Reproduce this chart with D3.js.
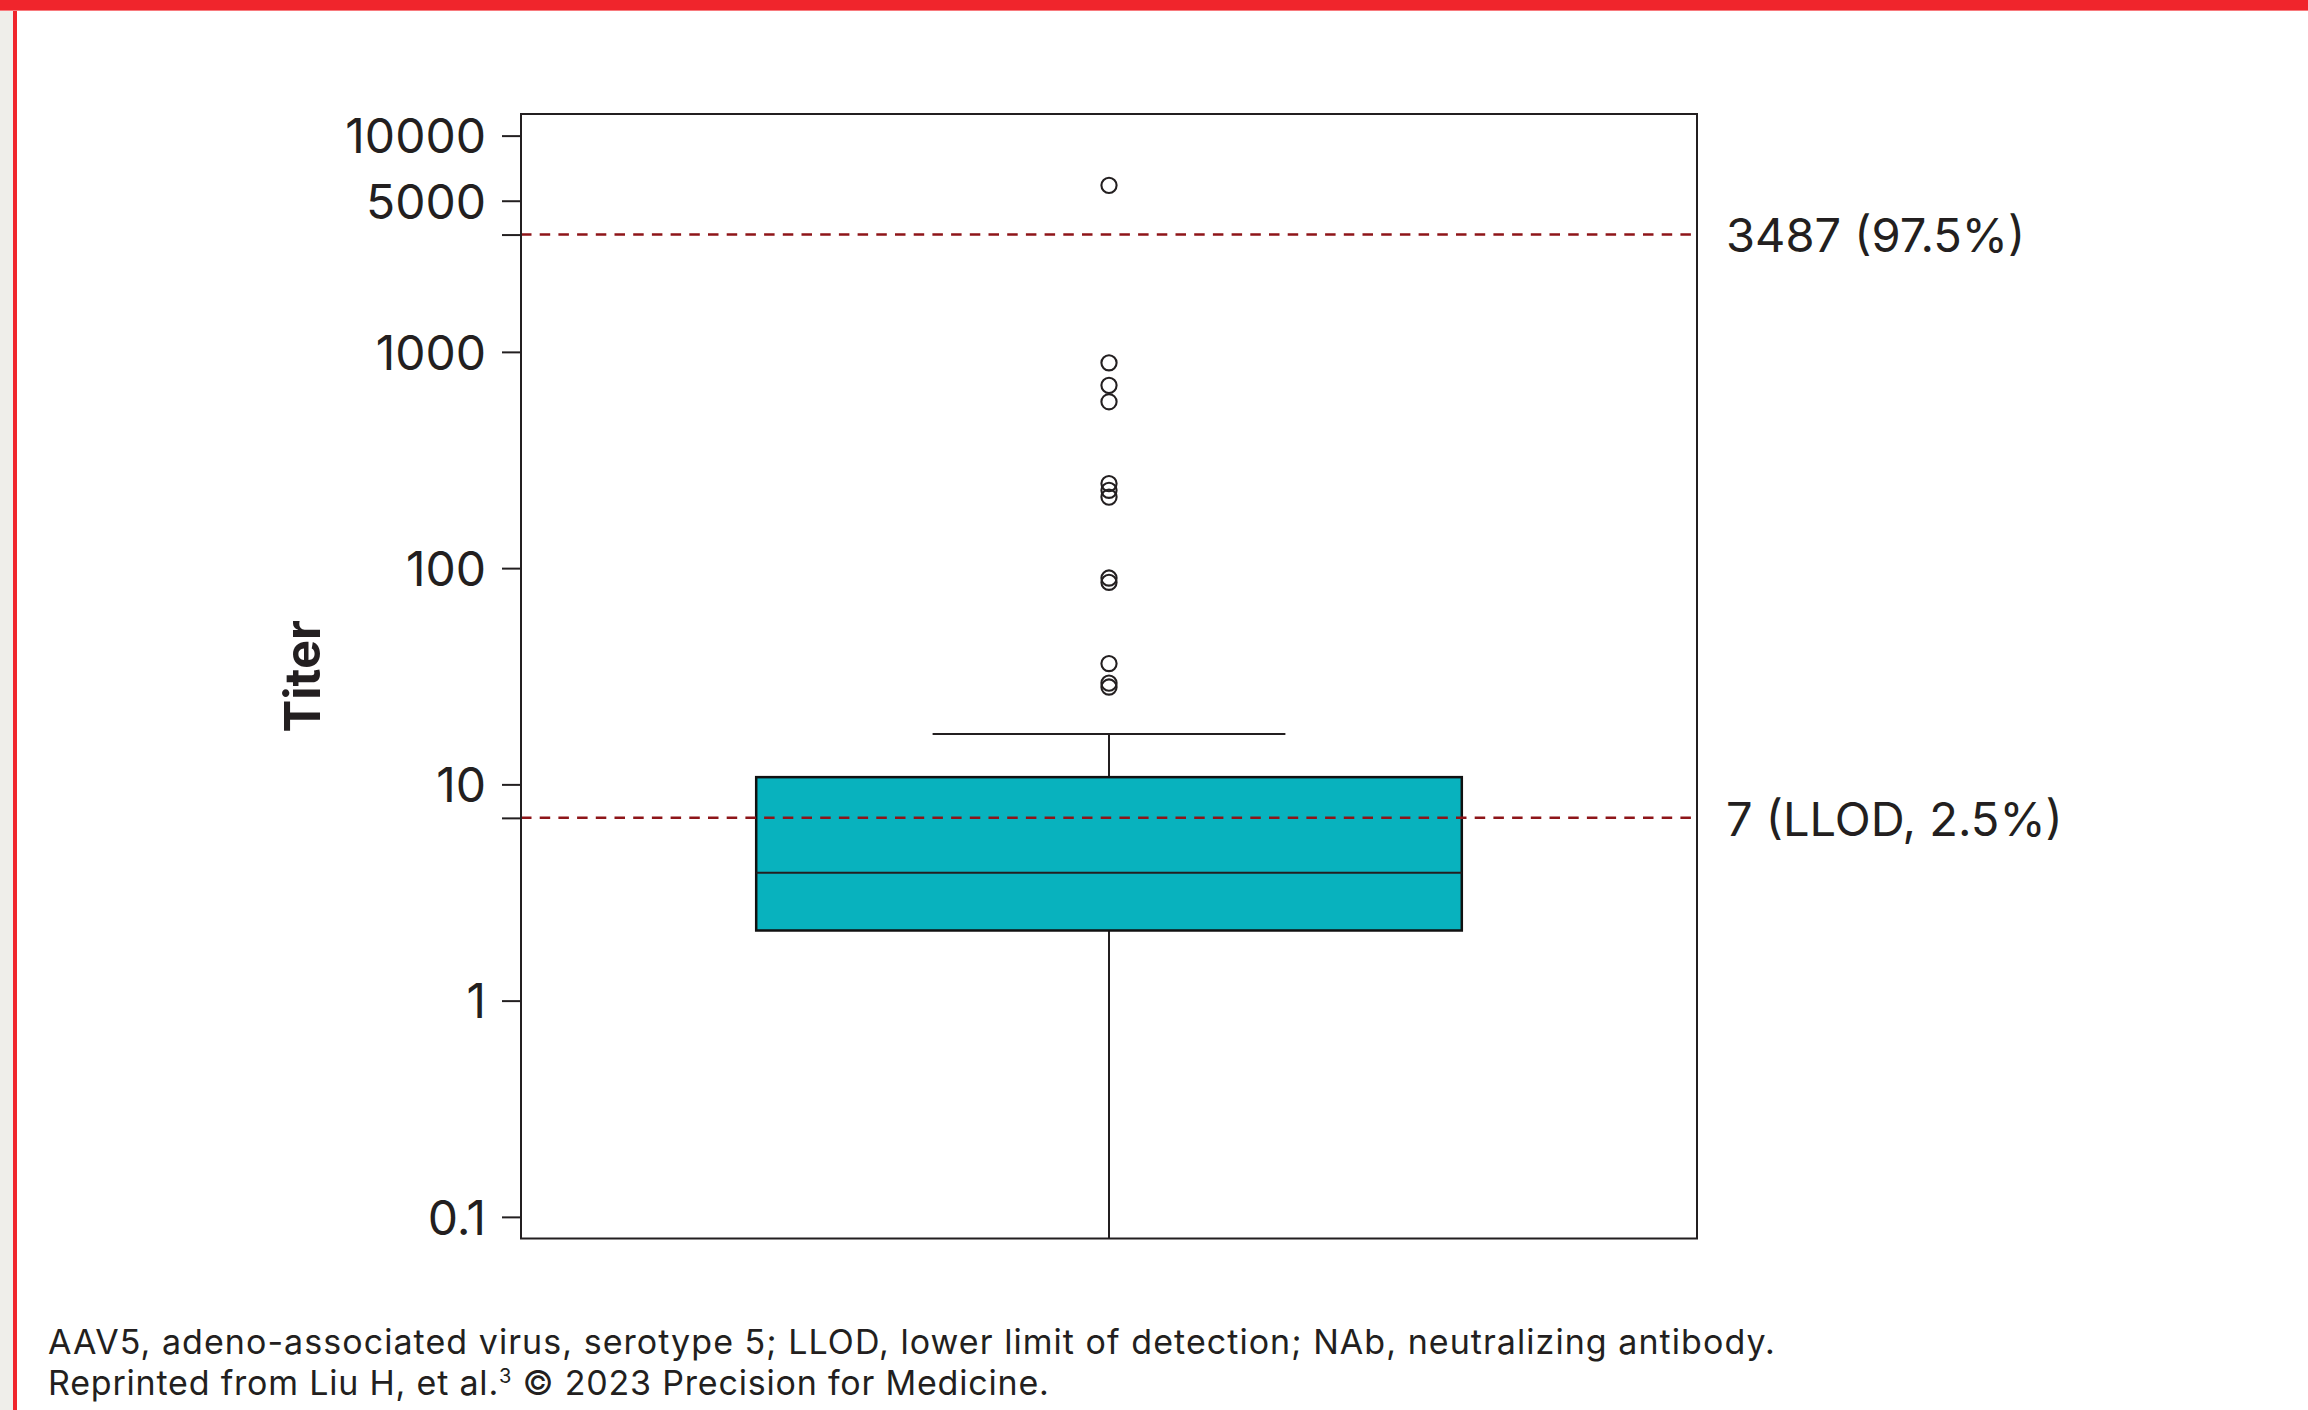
<!DOCTYPE html>
<html>
<head>
<meta charset="utf-8">
<script src="https://cdn.jsdelivr.net/npm/d3@7"></script>
<style>
  html, body { margin: 0; padding: 0; background: #fff; }
  svg { display: block; }
</style>
</head>
<body>
<div id="chart"></div>
<script>
// values (titer, log scale)
var group = ["AAV5"];
var boxStats = { q1: 2.11, median: 3.9, q3: 10.8, whiskerLow: 0.05, whiskerHigh: 17.1 };
var outliers = [5890, 890, 700, 588, 246, 229, 213, 90, 86, 36.2, 29.4, 28.2];
var tickValues = [0.1, 1, 10, 100, 1000, 5000, 10000];
var cutoffs = [3487, 7];
var cutoffLabels = ["3487 (97.5%)", "7 (LLOD, 2.5%)"];
var footnotes = [
  "AAV5, adeno-associated virus, serotype 5; LLOD, lower limit of detection; NAb, neutralizing antibody.",
  "Reprinted from Liu H, et al."
];

var W = 2308, H = 1410;
var ink = "#231f20";
var font = "Inter, 'Noto Sans', sans-serif";

var svg = d3.select("#chart").append("svg")
    .attr("width", W)
    .attr("height", H);

// page decoration: grey strip, red rules
svg.append("rect").attr("x", 0).attr("y", 0).attr("width", 13).attr("height", H).attr("fill", "#efeeea");
svg.append("rect").attr("x", 13).attr("y", 0).attr("width", 4).attr("height", H).attr("fill", "#f0252c");
svg.append("rect").attr("x", 0).attr("y", 0).attr("width", W).attr("height", 10).attr("fill", "#f0252c");
svg.append("rect").attr("x", 0).attr("y", 10).attr("width", W).attr("height", 1).attr("fill", "#f87a7d");

var plotLeft = 521, plotRight = 1697;
var pad = Math.pow(10, 0.1);

var y = d3.scaleLog()
    .domain([0.1 / pad, 10000 * pad])
    .range([1238.5, 114])
    .clamp(true);

var x = d3.scaleBand()
    .domain(group)
    .range([plotLeft, plotRight])
    .paddingInner(0.4)
    .paddingOuter(0.2);

var plotTop = y.range()[1], plotBottom = y.range()[0];
var cx = x("AAV5") + x.bandwidth() / 2;
var bw = x.bandwidth();

// y axis
var axis = d3.axisLeft(y)
    .tickValues(tickValues.concat(cutoffs))
    .tickSize(19)
    .tickPadding(16)
    .tickFormat(d => tickValues.indexOf(d) >= 0 ? String(d) : "");

var gAxis = svg.append("g")
    .attr("transform", "translate(" + plotLeft + ",0)")
    .call(axis);
gAxis.select(".domain").remove();
gAxis.selectAll(".tick line").attr("stroke", ink).attr("stroke-width", 2);
gAxis.selectAll(".tick text")
    .attr("fill", ink)
    .attr("dy", "0.36em")
    .style("font-family", font)
    .style("font-size", "48px")
    .style("font-weight", 400);

// y title
svg.append("text")
    .attr("transform", "translate(320," + ((plotTop + plotBottom) / 2) + ") rotate(-90)")
    .attr("text-anchor", "middle")
    .attr("fill", ink)
    .style("font-family", font)
    .style("font-size", "49px")
    .style("font-weight", 700)
    .text("Titer");

// whiskers
var g = svg.append("g");
g.append("line")
    .attr("x1", cx).attr("x2", cx)
    .attr("y1", y(boxStats.q3)).attr("y2", y(boxStats.whiskerHigh))
    .attr("stroke", ink).attr("stroke-width", 2);
g.append("line")
    .attr("x1", cx - bw / 4).attr("x2", cx + bw / 4)
    .attr("y1", y(boxStats.whiskerHigh)).attr("y2", y(boxStats.whiskerHigh))
    .attr("stroke", ink).attr("stroke-width", 2);
g.append("line")
    .attr("x1", cx).attr("x2", cx)
    .attr("y1", y(boxStats.q1)).attr("y2", y(boxStats.whiskerLow))
    .attr("stroke", ink).attr("stroke-width", 2);

// box
g.append("rect")
    .attr("x", x("AAV5"))
    .attr("y", y(boxStats.q3))
    .attr("width", bw)
    .attr("height", y(boxStats.q1) - y(boxStats.q3))
    .attr("fill", "#08b2be")
    .attr("stroke", "#111")
    .attr("stroke-width", 2.5);
g.append("line")
    .attr("x1", x("AAV5")).attr("x2", x("AAV5") + bw)
    .attr("y1", y(boxStats.median)).attr("y2", y(boxStats.median))
    .attr("stroke", ink).attr("stroke-width", 2);

// outliers
g.selectAll("circle")
    .data(outliers)
    .enter()
    .append("circle")
    .attr("cx", cx)
    .attr("cy", d => y(d))
    .attr("r", 7.6)
    .attr("fill", "none")
    .attr("stroke", ink)
    .attr("stroke-width", 2.1);

// reference lines
svg.selectAll(".cutoff")
    .data(cutoffs)
    .enter()
    .append("line")
    .attr("class", "cutoff")
    .attr("x1", plotLeft).attr("x2", plotRight)
    .attr("y1", d => y(d)).attr("y2", d => y(d))
    .attr("stroke", "#8e1519")
    .attr("stroke-width", 2.5)
    .attr("stroke-dasharray", "10.5 8.2");

// frame
svg.append("rect")
    .attr("x", plotLeft).attr("y", plotTop)
    .attr("width", plotRight - plotLeft).attr("height", plotBottom - plotTop)
    .attr("fill", "none")
    .attr("stroke", ink)
    .attr("stroke-width", 2);

svg.selectAll(".cutoff-label")
    .data(cutoffs)
    .enter()
    .append("text")
    .attr("class", "cutoff-label")
    .attr("x", plotRight + 29)
    .attr("y", d => y(d))
    .attr("dy", "0.38em")
    .attr("fill", ink)
    .style("font-family", font)
    .style("font-size", "47px")
    .text((d, i) => cutoffLabels[i]);

// footnote
var fn = svg.append("g")
    .attr("fill", ink)
    .style("font-family", font)
    .style("font-size", "34px")
    .style("letter-spacing", "1.05px");
fn.append("text").attr("x", 48).attr("y", 1354).text(footnotes[0]);
var t2 = fn.append("text").attr("x", 48).attr("y", 1395).style("letter-spacing", "0.8px");
t2.append("tspan").text(footnotes[1]);
t2.append("tspan").attr("dy", -12).style("font-size", "20px").text("3");
t2.append("tspan").attr("dy", 12).text(" © 2023 Precision for Medicine.");
</script>
</body>
</html>
